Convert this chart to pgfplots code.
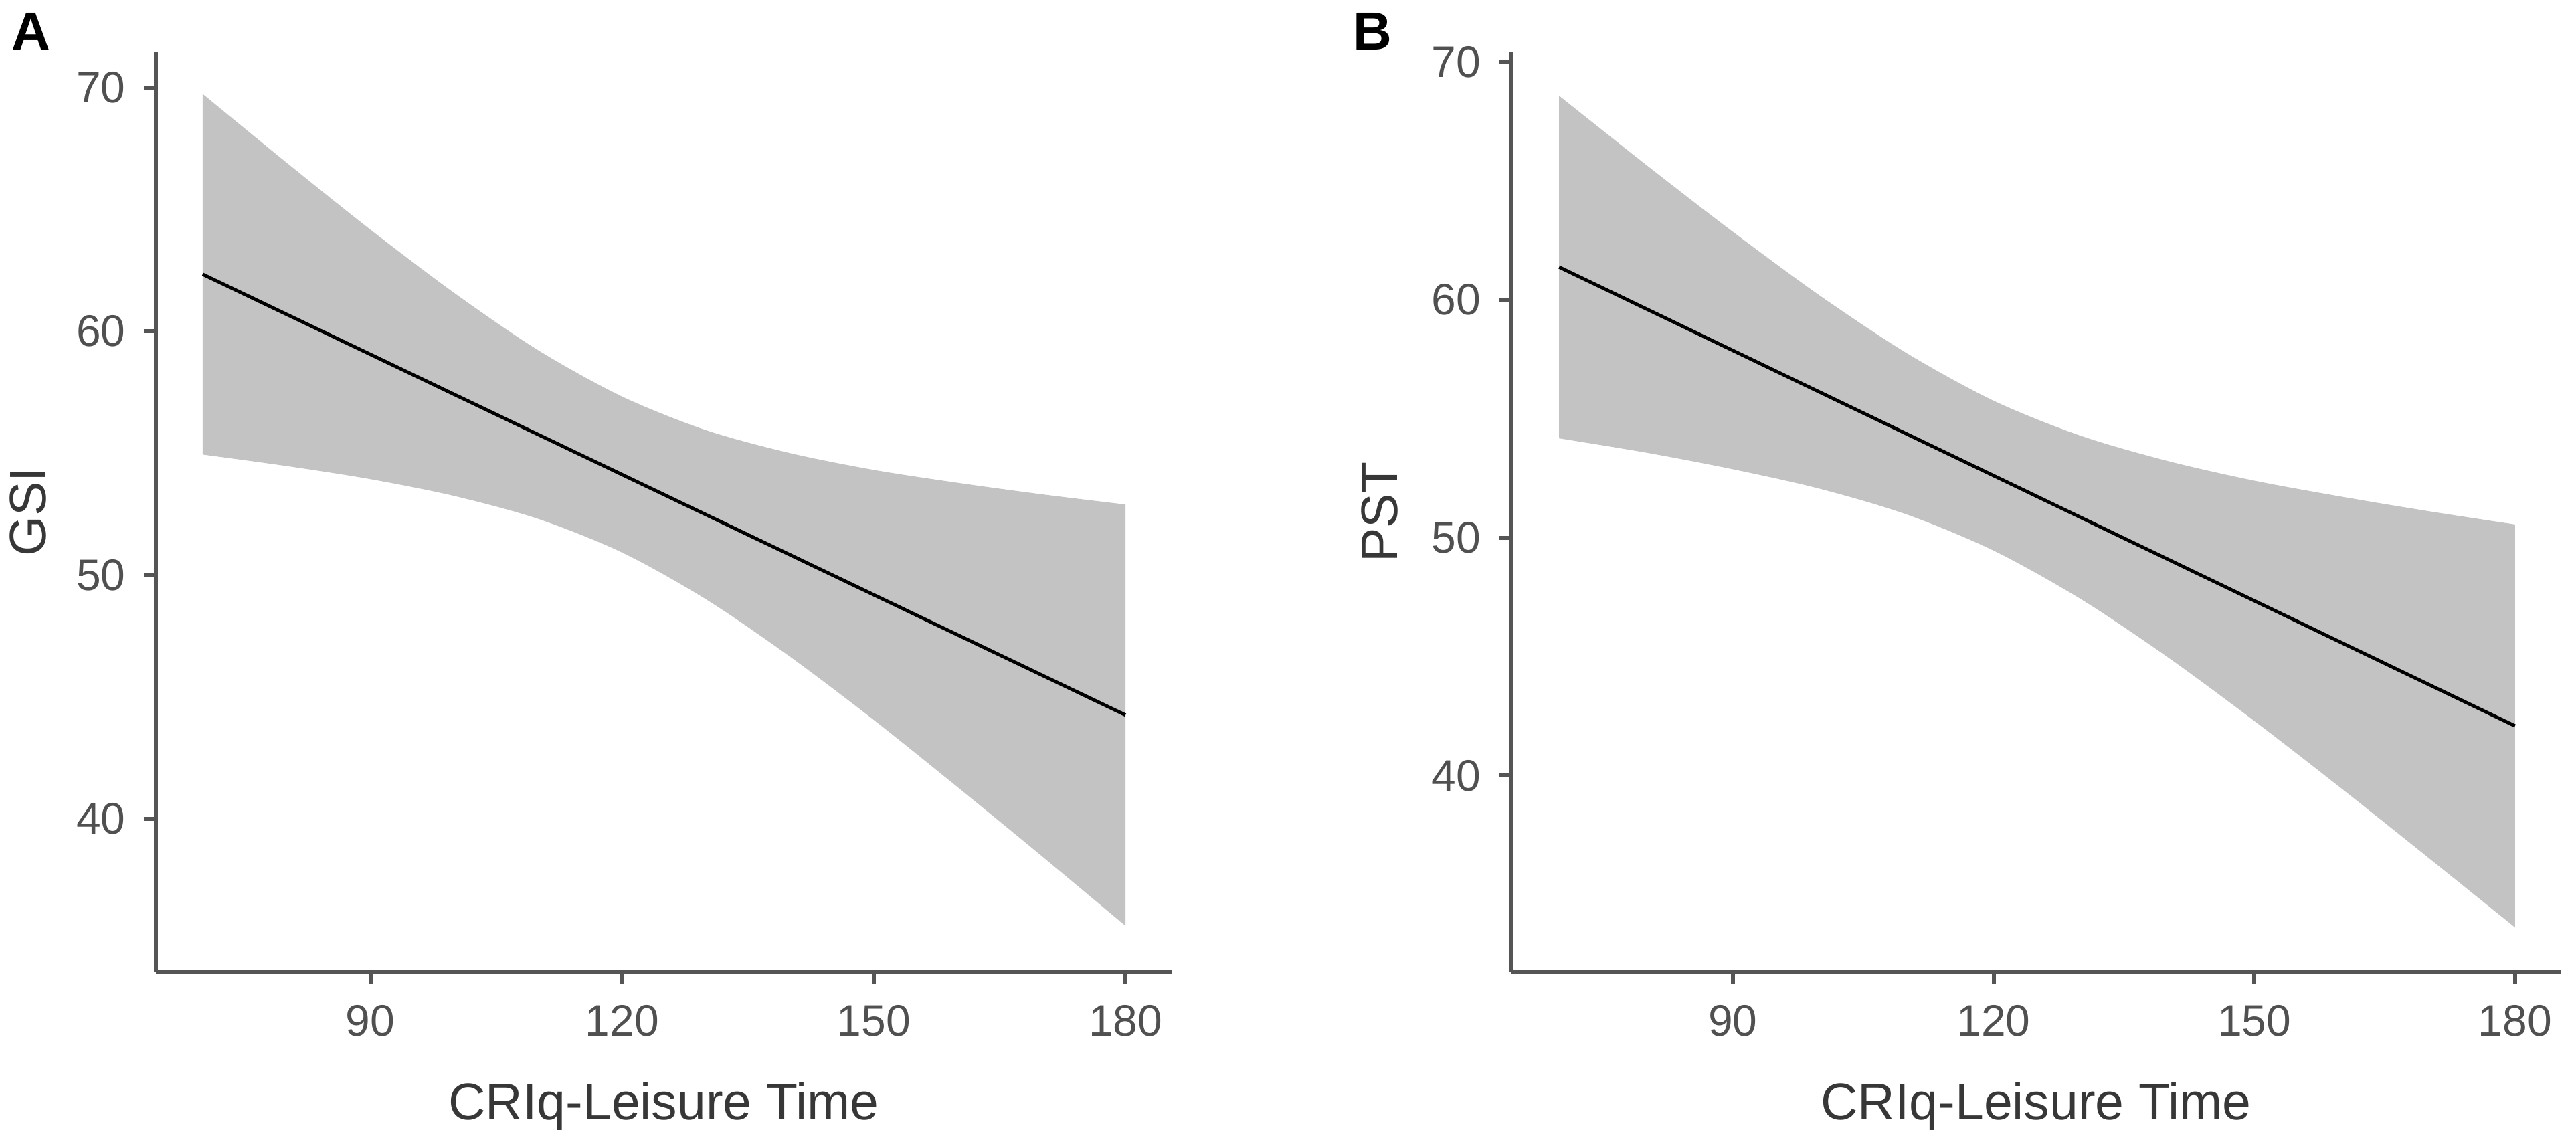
\documentclass[border=0pt]{standalone}
\usepackage{fontspec}
\setmainfont{Liberation Sans}
\usepackage{pgfplots}
\pgfplotsset{compat=1.18}
\usepgfplotslibrary{fillbetween}
\definecolor{bandcol}{RGB}{195,195,195}
\definecolor{axiscol}{RGB}{85,85,85}
\definecolor{tickcol}{RGB}{80,80,80}
\definecolor{labcol}{RGB}{55,55,55}
\pgfplotsset{
  panel/.style={
    scale only axis=true,
    axis x line=bottom, axis y line=left,
    axis line style={-, draw=axiscol, line width=0.6pt},
    enlargelimits=false,
    tick align=outside,
    major tick length=1.8pt,
    tick style={draw=axiscol, line width=0.6pt},
    xtick={90,120,150,180}, ytick={40,50,60,70},
    minor tick num=0,
    /pgf/number format/assume math mode=true,
    ticklabel style={font=\fontsize{6.6}{7}\selectfont, text=tickcol},
    xticklabel style={inner sep=0pt, yshift=-3.0pt},
    yticklabel style={inner sep=0pt, xshift=-2.5pt},
    xlabel style={at={(axis description cs:0.5,0)}, anchor=north, inner sep=0pt, yshift=-16.3pt, font=\fontsize{7.7}{9}\selectfont, text=labcol},
    ylabel style={at={(axis description cs:0,0.5)}, anchor=center, inner sep=0pt, font=\fontsize{7.7}{9}\selectfont, text=labcol},
  }
}
\begin{document}
\begin{tikzpicture}
\path (0,0) rectangle (385pt,171pt);
\node[anchor=north west, inner sep=0pt, font=\fontsize{8}{9}\selectfont\bfseries] at (1.56pt,169.3pt) {A};
\node[anchor=north west, inner sep=0pt, font=\fontsize{8}{9}\selectfont\bfseries] at (202.05pt,169.3pt) {B};
\begin{axis}[panel, at={(23.26pt,25.73pt)}, anchor=south west,
  width=151.84pt, height=137.42pt,
  xmin=64.4, xmax=185.5, ymin=33.71, ymax=71.44,
  xlabel={CRIq-Leisure Time}, ylabel={GSI},
  ylabel style={yshift=19.1pt}]
\addplot[name path=UA, draw=none, smooth] coordinates {
(70,69.74) (80,66.92) (90,64.17) (100,61.57) (110,59.22) (120,57.32)
(130,55.94) (140,55.00) (150,54.31) (160,53.78) (170,53.31) (180,52.89)};
\addplot[name path=LA, draw=none, smooth] coordinates {
(70,54.94) (80,54.47) (90,53.93) (100,53.24) (110,52.30) (120,50.92)
(130,49.00) (140,46.65) (150,44.05) (160,41.29) (170,38.47) (180,35.60)};
\addplot[fill=bandcol, draw=none] fill between[of=UA and LA];
\addplot[black, line width=0.5pt] coordinates {(70,62.34) (180,44.25)};
\end{axis}
\begin{axis}[panel, at={(225.8pt,25.73pt)}, anchor=south west,
  width=156.96pt, height=137.42pt,
  xmin=64.44, xmax=185.3, ymin=31.75, ymax=70.40,
  xlabel={CRIq-Leisure Time}, ylabel={PST},
  ylabel style={yshift=19.6pt}]
\addplot[name path=UB, draw=none, smooth] coordinates {
(70,68.58) (80,65.68) (90,62.86) (100,60.18) (110,57.76) (120,55.76)
(130,54.29) (140,53.23) (150,52.40) (160,51.73) (170,51.12) (180,50.56)};
\addplot[name path=LB, draw=none, smooth] coordinates {
(70,54.18) (80,53.58) (90,52.88) (100,52.06) (110,50.98) (120,49.46)
(130,47.43) (140,44.99) (150,42.30) (160,39.47) (170,36.56) (180,33.62)};
\addplot[fill=bandcol, draw=none] fill between[of=UB and LB];
\addplot[black, line width=0.5pt] coordinates {(70,61.38) (180,42.09)};
\end{axis}
\end{tikzpicture}
\end{document}
